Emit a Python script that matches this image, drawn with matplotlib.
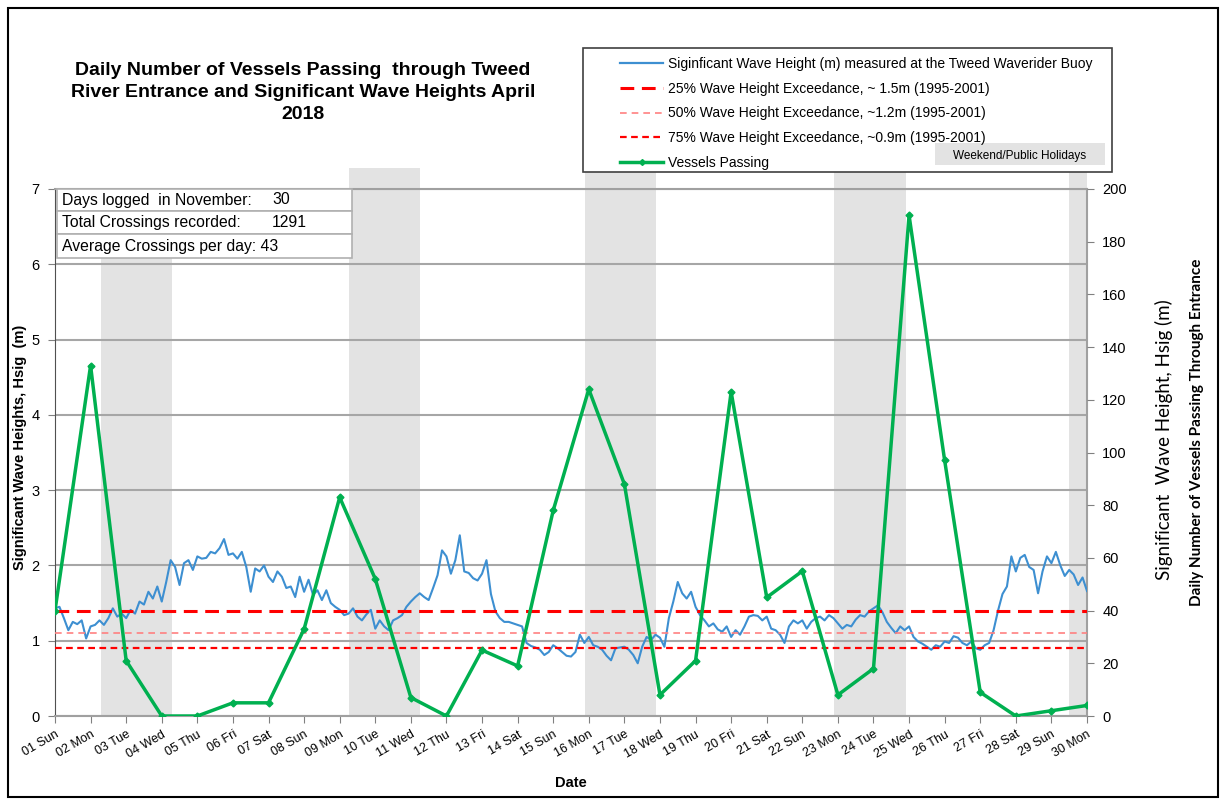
import numpy as np
import matplotlib
matplotlib.use('Agg')
import matplotlib.pyplot as plt
from matplotlib.patches import Rectangle
from matplotlib.lines import Line2D

plt.rcParams['font.family'] = ['Liberation Sans', 'DejaVu Sans']

# --- data -------------------------------------------------------------
days = list(range(1, 31))
day_labels = ['01 Sun', '02 Mon', '03 Tue', '04 Wed', '05 Thu', '06 Fri', '07 Sat',
              '08 Sun', '09 Mon', '10 Tue', '11 Wed', '12 Thu', '13 Fri', '14 Sat',
              '15 Sun', '16 Mon', '17 Tue', '18 Wed', '19 Thu', '20 Fri', '21 Sat',
              '22 Sun', '23 Mon', '24 Tue', '25 Wed', '26 Thu', '27 Fri', '28 Sat',
              '29 Sun', '30 Mon']

vessels = [40, 133, 21, 0, 0, 5, 5, 33, 83, 52, 7, 0, 25, 19, 78,
           124, 88, 8, 21, 123, 45, 55, 8, 18, 190, 97, 9, 0, 2, 4]

# significant wave height, 3-hourly from 01 Apr 00:00 to 30 Apr 00:00
wave_hs = [
    1.43, 1.45, 1.30, 1.14, 1.25, 1.22, 1.27, 1.03,
    1.19, 1.21, 1.27, 1.21, 1.30, 1.43, 1.32, 1.36,
    1.30, 1.41, 1.36, 1.52, 1.48, 1.65, 1.56, 1.72,
    1.52, 1.78, 2.07, 1.98, 1.74, 2.03, 2.07, 1.94,
    2.12, 2.09, 2.10, 2.18, 2.16, 2.23, 2.35, 2.14,
    2.16, 2.09, 2.18, 1.98, 1.65, 1.96, 1.92, 2.00,
    1.85, 1.78, 1.92, 1.85, 1.70, 1.72, 1.58, 1.85,
    1.65, 1.81, 1.61, 1.67, 1.54, 1.67, 1.50, 1.45,
    1.41, 1.34, 1.36, 1.43, 1.32, 1.27, 1.35, 1.41,
    1.16, 1.27, 1.19, 1.14, 1.27, 1.30, 1.34, 1.45,
    1.52, 1.58, 1.63, 1.58, 1.54, 1.70, 1.87, 2.20,
    2.12, 1.89, 2.07, 2.40, 1.92, 1.90, 1.83, 1.80,
    1.89, 2.07, 1.62, 1.39, 1.30, 1.25, 1.25, 1.23,
    1.21, 1.19, 0.97, 0.93, 0.91, 0.88, 0.81, 0.85,
    0.94, 0.90, 0.85, 0.80, 0.79, 0.85, 1.08, 0.97,
    1.05, 0.94, 0.92, 0.88, 0.80, 0.74, 0.90, 0.91,
    0.92, 0.88, 0.81, 0.70, 0.92, 1.05, 1.01, 1.08,
    1.04, 0.92, 1.30, 1.52, 1.78, 1.63, 1.56, 1.65,
    1.45, 1.34, 1.27, 1.19, 1.23, 1.15, 1.12, 1.19,
    1.05, 1.14, 1.08, 1.19, 1.32, 1.34, 1.33, 1.27,
    1.32, 1.16, 1.14, 1.08, 0.97, 1.19, 1.27, 1.23,
    1.27, 1.16, 1.25, 1.30, 1.32, 1.27, 1.34, 1.30,
    1.23, 1.16, 1.21, 1.19, 1.28, 1.34, 1.32, 1.39,
    1.43, 1.47, 1.38, 1.25, 1.17, 1.10, 1.19, 1.14,
    1.19, 1.05, 0.99, 0.96, 0.92, 0.88, 0.94, 0.92,
    0.99, 0.97, 1.06, 1.04, 0.97, 0.94, 0.99, 0.90,
    0.88, 0.94, 0.97, 1.14, 1.40, 1.62, 1.72, 2.12,
    1.92, 2.10, 2.14, 1.98, 1.94, 1.63, 1.92, 2.12,
    2.03, 2.18, 2.00, 1.86, 1.94, 1.88, 1.74, 1.84,
    1.66,
]
wave_day = 1 + np.arange(len(wave_hs)) / 8.0

exceed_levels = [1.40, 1.10, 0.90]   # 25%, 50%, 75% as drawn
exceed_labels = ['25% Wave Height Exceedance, ~ 1.5m (1995-2001)',
                 '50% Wave Height Exceedance, ~1.2m (1995-2001)',
                 '75% Wave Height Exceedance, ~0.9m (1995-2001)']

weekend_start = [2.3, 9.25, 15.9, 22.9, 29.5]
weekend_end = [4.3, 11.25, 17.9, 24.9, 30.0]

stat_labels = ['Days logged  in November:', 'Total Crossings recorded:',
               'Average Crossings per day: 43']
stat_values = ['30', '1291', '']

# --- figure -----------------------------------------------------------
W, H = 1221, 800
fig = plt.figure(figsize=(W / 100, H / 100), dpi=100)
ax = fig.add_axes([55 / W, 84 / H, 1032 / W, 527 / H])

# weekend / holiday shading
span_tops = [1.0, 1.04, 1.04, 1.04, 1.04]
for s, e, top in zip(weekend_start, weekend_end, span_tops):
    ax.axvspan(s, e, ymin=0, ymax=top, color='#e3e3e3', lw=0, zorder=0, clip_on=False)

ax.set_xlim(1, 30)
ax.set_ylim(0, 7)
ax.set_yticks(range(8))
ax.set_axisbelow(True)
ax.yaxis.grid(True, color='#a6a6a6', lw=1.5)

ax.plot(wave_day, wave_hs, color='#3d8fd1', lw=1.5, zorder=3)

ax.axhline(exceed_levels[0], color='#ff0000', lw=2.2, dashes=(4.5, 2.5), zorder=4)
ax.axhline(exceed_levels[1], color='#ff8080', lw=1.2, dashes=(4, 3), zorder=4)
ax.axhline(exceed_levels[2], color='#ff0000', lw=1.6, dashes=(3, 2), zorder=4)

ax.set_xticks(days)
ax.set_xticklabels(day_labels, rotation=30, ha='right', rotation_mode='anchor', fontsize=9)
ax.tick_params(axis='x', colors='#808080', labelcolor='black', length=5, pad=4)
ax.tick_params(axis='y', colors='#808080', labelcolor='black', labelsize=10.5, length=5, pad=6)
for side in ['top', 'right', 'bottom']:
    ax.spines[side].set_color('#a0a0a0')
    ax.spines[side].set_linewidth(1.5)
ax.spines['left'].set_color('#505050')

ax.set_ylabel('Significant Wave Heights, Hsig  (m)', fontsize=10.5, fontweight='bold')
ax.yaxis.set_label_coords(-28 / 1032, 0.51)
ax.set_xlabel('Date', fontsize=10.5, fontweight='bold', labelpad=11)

ax2 = ax.twinx()
ax2.set_ylim(0, 200)
ax2.set_yticks(range(0, 201, 20))
ax2.plot(days, vessels, color='#00b050', lw=2.5, marker='D', markersize=3.5, zorder=5)
ax2.tick_params(axis='y', colors='#808080', labelcolor='black', labelsize=10.5, length=5, pad=6)
for sp in ax2.spines.values():
    sp.set_visible(False)

# right-hand axis titles
fig.text(1164 / W, 1 - 440 / H, 'Significant  Wave Height, Hsig (m)', rotation=90,
         ha='center', va='center', fontsize=13.5, family=['Lato', 'DejaVu Sans'])
fig.text(1197 / W, 1 - 432 / H, 'Daily Number of Vessels Passing Through Entrance',
         rotation=90, ha='center', va='center', fontsize=11, fontweight='bold',
         family=['Lato', 'DejaVu Sans'])

# title
fig.text(303 / W, 1 - 62 / H,
         'Daily Number of Vessels Passing  through Tweed\n'
         'River Entrance and Significant Wave Heights April\n2018',
         ha='center', va='top', fontsize=14, fontweight='bold', linespacing=1.4)

# stats box
row_top = [189, 211, 234]
row_h = [22, 23, 24]
for lab, val, t, h in zip(stat_labels, stat_values, row_top, row_h):
    fig.patches.append(Rectangle((57 / W, 1 - (t + h) / H), 295 / W, h / H,
                                 transform=fig.transFigure, facecolor='white',
                                 edgecolor='#b0b0b0', lw=1.2, zorder=5))
    fig.text(62 / W, 1 - (t + h / 2) / H, lab, ha='left', va='center', fontsize=11.3, zorder=6)
    if val:
        fig.text(272 / W, 1 - (t + h / 2) / H, val, ha='left', va='center', fontsize=11.3, zorder=6)

# legend
fig.patches.append(Rectangle((583 / W, 1 - 172 / H), 529 / W, 124 / H, transform=fig.transFigure,
                             facecolor='white', edgecolor='#404040', lw=1.2, zorder=2))
fig.patches.append(Rectangle((935 / W, 1 - 165 / H), 170 / W, 22 / H, transform=fig.transFigure,
                             facecolor='#e3e3e3', edgecolor='none', zorder=3))
fig.text(1020 / W, 1 - 156 / H, 'Weekend/Public Holidays', ha='center', va='center',
         fontsize=8.5, zorder=4)

handles = [
    Line2D([], [], color='#3d8fd1', lw=1.6),
    Line2D([], [], color='#ff0000', lw=2.2, dashes=(4.5, 2.5)),
    Line2D([], [], color='#ff8080', lw=1.2, dashes=(4, 3)),
    Line2D([], [], color='#ff0000', lw=1.6, dashes=(3, 2)),
    Line2D([], [], color='#00b050', lw=2.5, marker='D', markersize=3),
]
labels = ['Siginficant Wave Height (m) measured at the Tweed Waverider Buoy'] + exceed_labels + ['Vessels Passing']
leg = fig.legend(handles, labels, loc='upper left', bbox_to_anchor=(620 / W, 1 - 57 / H),
                 frameon=False, fontsize=10, handlelength=3.1, handletextpad=0.35,
                 labelspacing=0.77, borderpad=0, borderaxespad=0)
leg.set_zorder(4)

# outer border
fig.patches.append(Rectangle((8 / W, 3 / H), 1210 / W, 789 / H, transform=fig.transFigure,
                             facecolor='none', edgecolor='black', lw=1.5, zorder=10))

fig.savefig('out.png', dpi=100)
